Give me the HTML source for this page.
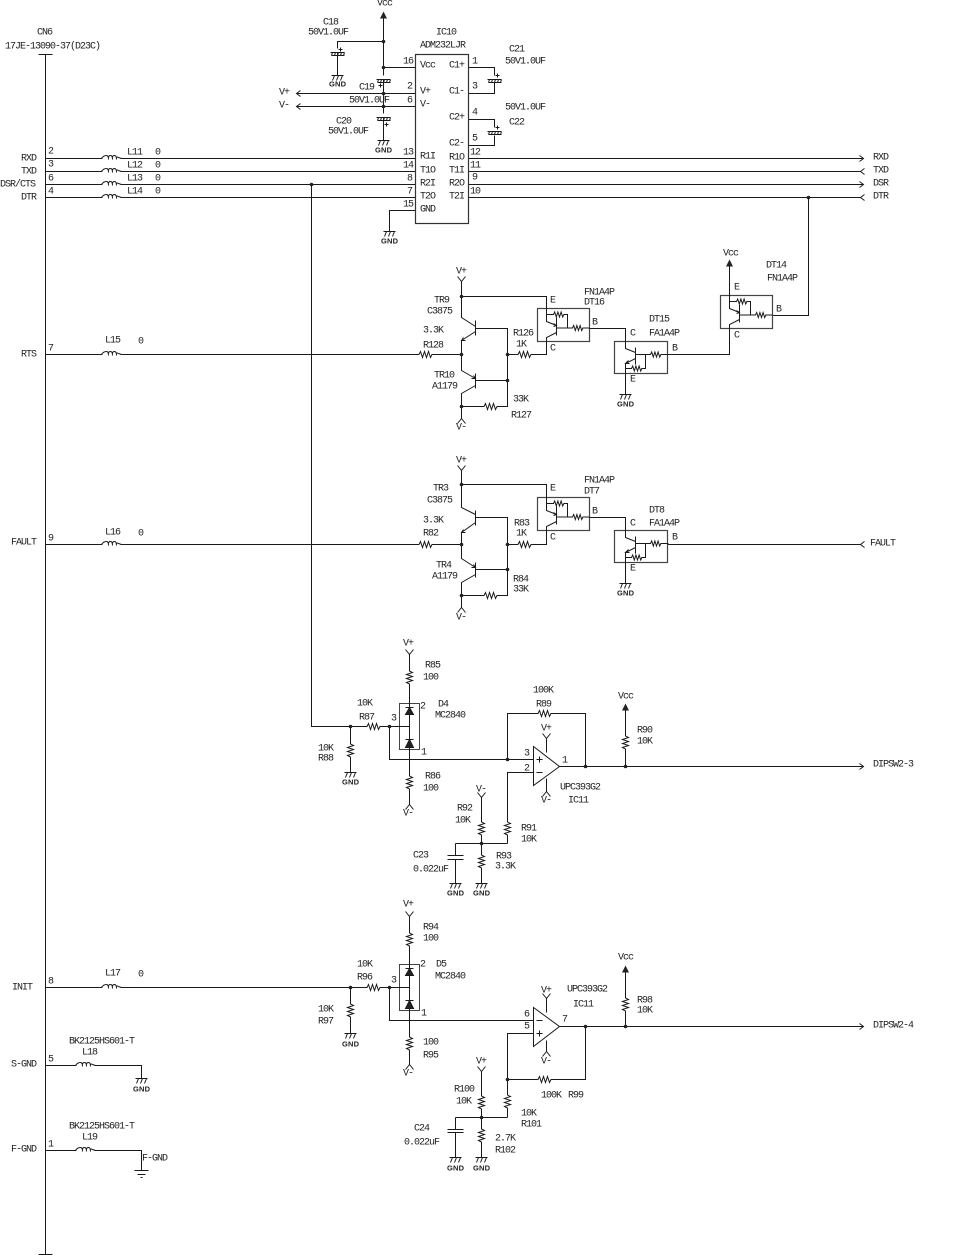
<!DOCTYPE html>
<html><head><meta charset="utf-8"><style>
html,body{margin:0;padding:0;background:#fff}
svg{display:block}
text{font:10px "Liberation Mono",monospace;letter-spacing:-1px;fill:#222;dominant-baseline:central;stroke:none}
text.g{font:bold 7.5px "Liberation Sans",sans-serif;letter-spacing:.2px}
.w{fill:none;stroke:#1a1a1a;stroke-width:1}
</style></head><body>
<svg xmlns="http://www.w3.org/2000/svg" width="970" height="1255" viewBox="0 0 970 1255">
<defs>
<g id="rh" class="w"><path d="M-7,0H7" stroke="#fff" stroke-width="3"/><path d="M-8,0h1.500l1.500,-3 2,6 2,-6 2,6 2,-6 2,6 1.500,-3h1.500"/></g>
<g id="rs" class="w"><path d="M-5,0H5" stroke="#fff" stroke-width="3"/><path d="M-6,0h1l1.200,-2.500 1.600,5 1.600,-5 1.600,5 1.600,-5 1.600,5 1.200,-2.500h.6"/></g>
<g id="rv" class="w"><path d="M0,-7V7" stroke="#fff" stroke-width="3"/><path d="M0,-8v1.500l3,1.500 -6,2 6,2 -6,2 6,2 -6,2 3,1.500v1.500"/></g>
<g id="ind" class="w"><path d="M-9,0H9" stroke="#fff" stroke-width="3"/><path d="M-10,0Q-8,-3 -5,-3Q-3,-3 -3,1M-3,-1Q-3,-3 -1,-3Q1,-3 1,1M1,-1Q1,-3 3,-3Q5,-3 5,1M5,-1Q5,-2 7,-1L10,0"/></g>
<g id="gnd" class="w"><path d="M-6,0H6M-3,0l-2,5M1,0l-2,5M5,0l-2,5"/></g>
<g id="pc" class="w"><path d="M-4,-2H4" stroke="#fff" stroke-width="4"/><path d="M-7,0H7M-6,3H7M-5,0l-1,3M-2,0l-1,3M1,0l-1,3M4,0l-1,3M7,0l-1,3"/></g>
<g id="vp" class="w"><path d="M-4,-4L0,1 4,-4"/></g>
<g id="vn" class="w"><path d="M-4,5L0,0 4,5"/></g>
<path id="vcc" d="M-3.500,7L0,0 3.500,7Z" fill="#222"/>
<g id="fn" class="w">
<rect x="-9" y="0" width="52" height="33" fill="#fff" stroke="#444" stroke-width="1.200"/>
<path d="M0,-1V13L10,17M10,9V27M10,24L0,29V34M10,19.500H43M0,6H21V19.500M7,15l3,2 -3,1"/>
<use href="#rs" x="31" y="19.500"/><use href="#rs" x="12" y="6"/>
</g>
<g id="fa" class="w">
<rect x="-11" y="0" width="53" height="32" fill="#fff" stroke="#444" stroke-width="1.200"/>
<path d="M0,-1V7L10,11M10,6V23M10,17L0,22V33M10,13H43M0,27H20V13M3,19l-3,3 4,0"/>
<use href="#rs" x="30" y="13"/><use href="#rs" x="11" y="27"/>
</g>
<g id="dio" class="w">
<rect x="-10" y="0" width="20" height="46" stroke="#444"/>
<path d="M0,-1V47M-20,23H0M-4,4H4M-4,36H4"/>
<path d="M0,4L4,11H-4ZM0,36L4,44H-4Z" fill="#222"/>
</g>
</defs>
<rect width="970" height="1255" fill="#fff"/>
<g transform="translate(.5,.5)">
<!-- bus -->
<path class="w" d="M45,54V1254M38,54H52M38,1254H52"/>
<!-- signal lines -->
<path class="w" d="M45,158H415M45,171H415M45,184H415M45,197H415M468,158H863M468,171H860M468,184H863M468,197H860M859,155l4,3 -4,3M859,181l4,3 -4,3M864,168l-4,3 4,3M864,194l-4,3 4,3"/>
<path class="w" d="M45,354H461M45,544H461M45,987H389M45,1065H141V1078M45,1150H141V1170M134,1170H148M137,1174H145M140,1177H142"/>
<use href="#ind" x="111" y="158"/><use href="#ind" x="111" y="171"/><use href="#ind" x="111" y="184"/><use href="#ind" x="111" y="197"/>
<use href="#ind" x="111" y="354"/><use href="#ind" x="111" y="544"/><use href="#ind" x="111" y="987"/><use href="#ind" x="85" y="1065"/><use href="#ind" x="85" y="1150"/>
<use href="#gnd" x="141" y="1078"/>
<!-- IC10 power -->
<path class="w" d="M383,16V140M383,41H337V75M383,67H415M296,93H415M296,106H415M300,90l-4,3 4,3M300,103l-4,3 4,3"/>
<use href="#vcc" x="383" y="11"/>
<circle cx="383" cy="41" r="1.800" fill="#222"/><circle cx="383" cy="67" r="1.800" fill="#222"/><circle cx="383" cy="93" r="1.800" fill="#222"/><circle cx="383" cy="106" r="1.800" fill="#222"/>
<use href="#pc" x="337" y="52"/><use href="#pc" x="383" y="79"/><use href="#pc" x="383" y="117"/>
<use href="#gnd" x="337" y="75"/><use href="#gnd" x="383" y="140"/>
<path class="w" d="M468,67H494V78M468,93H494V82M468,119H494V131M468,145H494V135"/>
<use href="#pc" x="494" y="79"/><use href="#pc" x="494" y="131"/>
<path class="w" d="M415,210H389V231"/><use href="#gnd" x="389" y="231"/>
<rect x="415" y="54" width="53" height="169" fill="#fff" stroke="#333" stroke-width="1.200"/>
<path class="w" d="M338,49h4M340,47v4M378,85h4M380,83v4M384,124h4M386,122v4M495,75h4M497,73v4M495,127h4M497,125v4"/>
<!-- DTR link -->
<circle cx="808" cy="197" r="1.800" fill="#222"/>
<path class="w" d="M808,197V315H772"/>
<!-- tap line -->
<circle cx="311" cy="184" r="1.800" fill="#222"/>
<path class="w" d="M311,184V726H389"/>
<!-- RTS driver -->
<path class="w" d="M461,281V317L475,326M475,320V335M475,328H507V406H461M475,331L461,340V370L475,378M475,373V388M475,380H507M475,385L461,393V418M461,296H546V310M507,354H546V336"/>
<path class="w" d="M463,337l-2,3 4,0M473,375l2,3 -4,0"/>
<use href="#vp" x="461" y="280"/><use href="#vn" x="461" y="418"/>
<g fill="#222"><circle cx="461" cy="296" r="1.800"/><circle cx="461" cy="354" r="1.800"/><circle cx="507" cy="354" r="1.800"/><circle cx="507" cy="380" r="1.800"/><circle cx="461" cy="406" r="1.800"/></g>
<use href="#rh" x="425" y="354"/><use href="#rh" x="524" y="354"/><use href="#rh" x="490" y="406"/>
<use href="#fn" x="546" y="308"/>
<path class="w" d="M589,328H625V342M625,373V394"/>
<use href="#fa" x="625" y="341"/>
<use href="#gnd" x="625" y="394"/>
<path class="w" d="M667,354H729V329"/>
<path class="w" d="M729,266V295"/><use href="#vcc" x="729" y="259"/>
<use href="#fn" x="729" y="295"/>
<!-- FAULT driver -->
<path class="w" d="M461,469V507L475,514M475,510V525M475,517H507V595H461M475,522L461,532V558L475,567M475,562V577M475,569H507M475,574L461,582V607M461,484H546V498M507,544H546V525"/>
<path class="w" d="M463,529l-2,3 4,0M473,564l2,3 -4,0"/>
<use href="#vp" x="461" y="469"/><use href="#vn" x="461" y="607"/>
<g fill="#222"><circle cx="461" cy="484" r="1.800"/><circle cx="461" cy="544" r="1.800"/><circle cx="507" cy="544" r="1.800"/><circle cx="507" cy="569" r="1.800"/><circle cx="461" cy="595" r="1.800"/></g>
<use href="#rh" x="425" y="544"/><use href="#rh" x="524" y="544"/><use href="#rh" x="490" y="595"/>
<use href="#fn" x="546" y="497"/>
<path class="w" d="M589,517H625V531M625,562V583M667,544H860M864,541l-4,3 4,3"/>
<use href="#fa" x="625" y="530"/>
<use href="#gnd" x="625" y="583"/>
<!-- DIPSW2-3 -->
<path class="w" d="M409,653V703M409,749V804M389,726V759H533M350,726V772M507,759V713H585V766M533,772H507V843M455,843H507M481,796V883M455,843V855M455,859V883M559,766H863M859,763l4,3 -4,3M625,766V708M546,737V752M546,778V791"/>
<use href="#dio" x="409" y="703"/>
<use href="#vp" x="409" y="653"/><use href="#vn" x="409" y="804"/><use href="#vp" x="481" y="796"/><use href="#vp" x="546" y="737"/><use href="#vn" x="546" y="791"/>
<use href="#vcc" x="625" y="703"/>
<use href="#rv" x="409" y="677"/><use href="#rv" x="409" y="782"/><use href="#rh" x="373" y="726"/><use href="#rv" x="350" y="750"/><use href="#rh" x="544" y="713"/><use href="#rv" x="625" y="742"/><use href="#rv" x="507" y="828"/><use href="#rv" x="481" y="828"/><use href="#rv" x="481" y="861"/>
<rect x="447" y="855.500" width="16" height="3" fill="#fff"/>
<path class="w" d="M447,855H463M447,859H463"/>
<use href="#gnd" x="350" y="772"/><use href="#gnd" x="455" y="883"/><use href="#gnd" x="481" y="883"/>
<path d="M533,746L559,766 533,785Z" fill="#fff" stroke="#1a1a1a"/>
<path class="w" d="M536,759h6M539,756v6M536,772h6"/>
<g fill="#222"><circle cx="350" cy="726" r="1.800"/><circle cx="389" cy="726" r="1.800"/><circle cx="507" cy="759" r="1.800"/><circle cx="585" cy="766" r="1.800"/><circle cx="625" cy="766" r="1.800"/><circle cx="481" cy="843" r="1.800"/></g>
<!-- DIPSW2-4 -->
<path class="w" d="M409,915V964M409,1010V1064M389,987V1020H533M350,987V1033M533,1033H507V1117M455,1117H507M481,1071V1157M455,1117V1129M455,1132V1157M559,1026H863M859,1023l4,3 -4,3M625,1026V970M585,1026V1079H507M546,997V1012M546,1040V1051"/>
<use href="#dio" x="409" y="964"/>
<use href="#vp" x="409" y="915"/><use href="#vn" x="409" y="1064"/><use href="#vp" x="481" y="1070"/><use href="#vp" x="546" y="997"/><use href="#vn" x="546" y="1051"/>
<use href="#vcc" x="625" y="965"/>
<use href="#rv" x="409" y="939"/><use href="#rv" x="409" y="1043"/><use href="#rh" x="373" y="987"/><use href="#rv" x="350" y="1010"/><use href="#rh" x="544" y="1079"/><use href="#rv" x="625" y="1004"/><use href="#rv" x="507" y="1101"/><use href="#rv" x="481" y="1102"/><use href="#rv" x="481" y="1135"/>
<rect x="447" y="1129.500" width="16" height="2" fill="#fff"/>
<path class="w" d="M447,1129H463M447,1132H463"/>
<use href="#gnd" x="350" y="1033"/><use href="#gnd" x="455" y="1157"/><use href="#gnd" x="481" y="1157"/>
<path d="M533,1007L559,1026 533,1046Z" fill="#fff" stroke="#1a1a1a"/>
<path class="w" d="M536,1033h6M539,1030v6M536,1020h6"/>
<g fill="#222"><circle cx="350" cy="987" r="1.800"/><circle cx="389" cy="987" r="1.800"/><circle cx="507" cy="1079" r="1.800"/><circle cx="585" cy="1026" r="1.800"/><circle cx="625" cy="1026" r="1.800"/><circle cx="481" cy="1117" r="1.800"/></g>
</g>
<!-- TEXT -->
<g transform="translate(0,1)">
<text x="37" y="32">CN6</text><text x="5" y="46">17JE-13090-37(D23C)</text>
<text x="21" y="158">RXD</text><text x="21" y="171">TXD</text><text x="0" y="184">DSR/CTS</text><text x="21" y="197">DTR</text>
<text x="48" y="151">2</text><text x="48" y="164">3</text><text x="48" y="178">6</text><text x="48" y="191">4</text>
<text x="127" y="152">L11</text><text x="155" y="152">0</text><text x="127" y="165">L12</text><text x="155" y="165">0</text><text x="127" y="178">L13</text><text x="155" y="178">0</text><text x="127" y="191">L14</text><text x="155" y="191">0</text>
<text x="21" y="354">RTS</text><text x="48" y="348">7</text><text x="105" y="340">L15</text><text x="138" y="341">0</text>
<text x="11" y="542">FAULT</text><text x="48" y="538">9</text><text x="105" y="532">L16</text><text x="138" y="533">0</text>
<text x="12" y="987">INIT</text><text x="48" y="981">8</text><text x="105" y="973">L17</text><text x="138" y="974">0</text>
<text x="11" y="1064">S-GND</text><text x="48" y="1059">5</text><text x="69" y="1041">BK2125HS601-T</text><text x="82" y="1052">L18</text><text class="g" x="133" y="1088">GND</text>
<text x="11" y="1149">F-GND</text><text x="48" y="1144">1</text><text x="69" y="1126">BK2125HS601-T</text><text x="82" y="1137">L19</text><text x="142" y="1158">F-GND</text>
<text x="377" y="3">Vcc</text><text x="323" y="22">C18</text><text x="308" y="32">50V1.0UF</text><text x="436" y="32">IC10</text><text x="420" y="45">ADM232LJR</text>
<text x="509" y="49">C21</text><text x="505" y="61">50V1.0UF</text><text x="505" y="107">50V1.0UF</text><text x="509" y="122">C22</text>
<text x="359" y="87">C19</text><text x="349" y="100">50V1.0UF</text><text x="336" y="121">C20</text><text x="328" y="131">50V1.0UF</text>
<text x="279" y="92">V+</text><text x="279" y="105">V-</text>
<text class="g" x="329" y="83">GND</text><text class="g" x="375" y="149">GND</text><text class="g" x="381" y="240">GND</text>
<text x="403" y="61">16</text><text x="420" y="65">Vcc</text><text x="449" y="65">C1+</text><text x="472" y="61">1</text>
<text x="407" y="86">2</text><text x="420" y="91">V+</text><text x="407" y="100">6</text><text x="420" y="104">V-</text>
<text x="449" y="91">C1-</text><text x="472" y="86">3</text><text x="449" y="117">C2+</text><text x="472" y="112">4</text><text x="449" y="143">C2-</text><text x="472" y="138">5</text>
<text x="403" y="152">13</text><text x="403" y="165">14</text><text x="407" y="178">8</text><text x="407" y="191">7</text><text x="403" y="204">15</text>
<text x="420" y="156">R1I</text><text x="420" y="170">T1O</text><text x="420" y="183">R2I</text><text x="420" y="196">T2O</text><text x="420" y="209">GND</text>
<text x="449" y="157">R1O</text><text x="449" y="170">T1I</text><text x="449" y="183">R2O</text><text x="449" y="196">T2I</text>
<text x="470" y="152">12</text><text x="470" y="165">11</text><text x="472" y="177">9</text><text x="470" y="191">10</text>
<text x="873" y="157">RXD</text><text x="873" y="170">TXD</text><text x="873" y="183">DSR</text><text x="873" y="196">DTR</text>
<text x="456" y="271">V+</text><text x="456" y="427">V-</text>
<text x="434" y="300">TR9</text><text x="427" y="311">C3875</text><text x="423" y="330">3.3K</text><text x="423" y="345">R128</text><text x="434" y="375">TR10</text><text x="432" y="386">A1179</text><text x="513" y="399">33K</text><text x="511" y="415">R127</text><text x="513" y="333">R126</text><text x="516" y="344">1K</text>
<text x="584" y="292">FN1A4P</text><text x="584" y="302">DT16</text><text x="550" y="300">E</text><text x="550" y="348">C</text><text x="592" y="322">B</text>
<text x="649" y="319">DT15</text><text x="649" y="333">FA1A4P</text><text x="630" y="333">C</text><text x="672" y="348">B</text><text x="630" y="379">E</text><text class="g" x="617" y="403">GND</text>
<text x="723" y="253">Vcc</text><text x="766" y="265">DT14</text><text x="767" y="278">FN1A4P</text><text x="734" y="287">E</text><text x="734" y="335">C</text><text x="776" y="309">B</text>
<text x="456" y="460">V+</text><text x="456" y="617">V-</text>
<text x="433" y="488">TR3</text><text x="427" y="500">C3875</text><text x="423" y="520">3.3K</text><text x="423" y="533">R82</text><text x="436" y="565">TR4</text><text x="432" y="576">A1179</text><text x="513" y="579">R84</text><text x="513" y="589">33K</text><text x="514" y="523">R83</text><text x="516" y="533">1K</text>
<text x="584" y="480">FN1A4P</text><text x="584" y="491">DT7</text><text x="550" y="488">E</text><text x="550" y="537">C</text><text x="592" y="511">B</text>
<text x="649" y="510">DT8</text><text x="649" y="523">FA1A4P</text><text x="630" y="523">C</text><text x="672" y="537">B</text><text x="630" y="568">E</text><text class="g" x="617" y="592">GND</text>
<text x="870" y="543">FAULT</text>
<text x="403" y="643">V+</text><text x="403" y="813">V-</text><text x="425" y="665">R85</text><text x="423" y="677">100</text><text x="438" y="704">D4</text><text x="435" y="715">MC2840</text><text x="420" y="706">2</text><text x="421" y="752">1</text><text x="391" y="718">3</text>
<text x="357" y="703">10K</text><text x="359" y="717">R87</text><text x="318" y="748">10K</text><text x="318" y="758">R88</text><text class="g" x="342" y="781">GND</text><text x="425" y="776">R86</text><text x="423" y="788">100</text>
<text x="533" y="690">100K</text><text x="536" y="704">R89</text><text x="541" y="728">V+</text><text x="541" y="800">V-</text><text x="524" y="753">3</text><text x="524" y="768">2</text><text x="562" y="760">1</text><text x="560" y="787">UPC393G2</text><text x="568" y="800">IC11</text>
<text x="618" y="696">Vcc</text><text x="637" y="730">R90</text><text x="637" y="741">10K</text>
<text x="476" y="789">V-</text><text x="457" y="808">R92</text><text x="455" y="820">10K</text><text x="521" y="828">R91</text><text x="521" y="839">10K</text><text x="496" y="856">R93</text><text x="495" y="866">3.3K</text><text x="413" y="855">C23</text><text x="413" y="869">0.022uF</text><text class="g" x="447" y="892">GND</text><text class="g" x="473" y="892">GND</text>
<text x="873" y="764">DIPSW2-3</text><text x="873" y="1025">DIPSW2-4</text>
<text x="403" y="904">V+</text><text x="403" y="1073">V-</text><text x="423" y="927">R94</text><text x="423" y="938">100</text><text x="436" y="964">D5</text><text x="435" y="976">MC2840</text><text x="420" y="964">2</text><text x="421" y="1013">1</text><text x="391" y="980">3</text>
<text x="357" y="964">10K</text><text x="357" y="977">R96</text><text x="318" y="1009">10K</text><text x="318" y="1021">R97</text><text class="g" x="342" y="1043">GND</text><text x="423" y="1042">100</text><text x="423" y="1055">R95</text>
<text x="541" y="990">V+</text><text x="541" y="1061">V-</text><text x="524" y="1014">6</text><text x="524" y="1026">5</text><text x="562" y="1019">7</text><text x="567" y="989">UPC393G2</text><text x="573" y="1004">IC11</text>
<text x="618" y="957">Vcc</text><text x="637" y="1000">R98</text><text x="637" y="1010">10K</text><text x="541" y="1095">100K</text><text x="568" y="1095">R99</text>
<text x="476" y="1061">V+</text><text x="454" y="1089">R100</text><text x="456" y="1101">10K</text><text x="521" y="1113">10K</text><text x="521" y="1124">R101</text><text x="495" y="1138">2.7K</text><text x="495" y="1150">R102</text><text x="414" y="1128">C24</text><text x="404" y="1142">0.022uF</text><text class="g" x="447" y="1167">GND</text><text class="g" x="473" y="1167">GND</text>
</g>
</svg>
</body></html>
